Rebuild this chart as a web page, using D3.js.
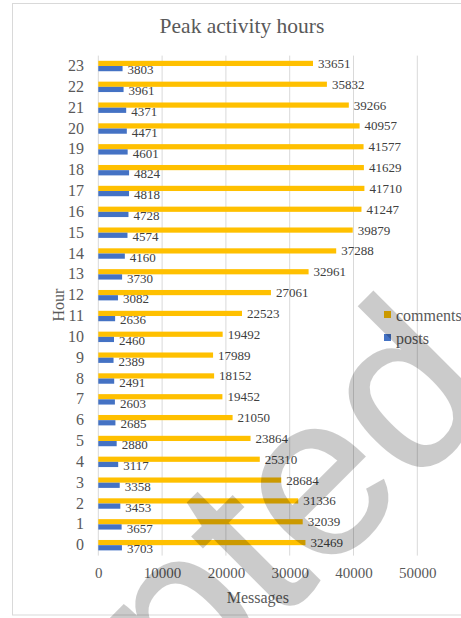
<!DOCTYPE html>
<html>
<head>
<meta charset="utf-8">
<script src="https://cdn.jsdelivr.net/npm/d3@7"></script>
<style>
  body { margin: 0; background: #fff; }
  text { font-family: "Liberation Serif", "Times New Roman", serif; }
  text.watermark { font-family: "Liberation Sans", Arial, sans-serif; }
</style>
</head>
<body>
<svg id="chart" width="461" height="618"></svg>
<script>
// chart data
let hours = [0, 1, 2, 3, 4, 5, 6, 7, 8, 9, 10, 11, 12, 13, 14, 15, 16, 17, 18, 19, 20, 21, 22, 23]
let comments = [32469, 32039, 31336, 28684, 25310, 23864, 21050, 19452, 18152, 17989, 19492, 22523,
  27061, 32961, 37288, 39879, 41247, 41710, 41629, 41577, 40957, 39266, 35832, 33651]
let posts = [3703, 3657, 3453, 3358, 3117, 2880, 2685, 2603, 2491, 2389, 2460, 2636,
  3082, 3730, 4160, 4574, 4728, 4818, 4824, 4601, 4471, 4371, 3961, 3803]
let xTicks = [0, 10000, 20000, 30000, 40000, 50000]
let seriesNames = ["comments", "posts"]
let seriesColors = ["#FFC000", "#4472C4"]

let svg = d3.select("#chart")

// chart border
svg.append("rect")
  .attr("x", 12.5).attr("y", 3.5)
  .attr("width", 470).attr("height", 611.5)
  .attr("fill", "none").attr("stroke", "#D9D9D9")

let x = d3.scaleLinear().domain([0, 50000]).range([98.3, 417.3])
let y = d3.scaleBand().domain(hours.slice().reverse()).range([55.6, 555.6])
let bh = y.bandwidth() / 4

// gridlines
svg.append("g")
  .selectAll("line")
  .data(xTicks).enter()
  .append("line")
  .attr("x1", d => x(d)).attr("x2", d => x(d))
  .attr("y1", y.range()[0]).attr("y2", y.range()[1])
  .attr("stroke", "#D9D9D9").attr("stroke-width", 1)

// x axis labels
let xAxis = svg.append("g")
  .attr("transform", `translate(0, ${y.range()[1]})`)
  .call(d3.axisBottom(x).tickValues(xTicks).tickSize(0).tickPadding(12).tickFormat(d3.format("d")))
xAxis.select(".domain").remove()
xAxis.selectAll("text")
  .attr("font-size", 15).attr("fill", "#595959")

// y axis labels
let yAxis = svg.append("g")
  .attr("transform", "translate(84, 0)")
  .call(d3.axisLeft(y).tickSize(0).tickPadding(0))
yAxis.select(".domain").remove()
yAxis.selectAll("text")
  .attr("font-size", 16).attr("fill", "#595959")

let rows = hours.map((h, i) => ({ hour: h, comments: comments[i], posts: posts[i] }))

// comments bars (upper)
svg.append("g")
  .selectAll("rect")
  .data(rows).enter()
  .append("rect")
  .attr("x", x(0))
  .attr("y", d => y(d.hour) + bh)
  .attr("width", d => x(d.comments) - x(0))
  .attr("height", bh)
  .attr("fill", seriesColors[0])

// posts bars (lower)
svg.append("g")
  .selectAll("rect")
  .data(rows).enter()
  .append("rect")
  .attr("x", x(0))
  .attr("y", d => y(d.hour) + 2 * bh)
  .attr("width", d => x(d.posts) - x(0))
  .attr("height", bh)
  .attr("fill", seriesColors[1])

// value labels
let labels = svg.append("g")
  .attr("font-size", 13).attr("fill", "#404040")
labels.selectAll("text.c")
  .data(rows).enter()
  .append("text")
  .attr("x", d => x(d.comments) + 5)
  .attr("y", d => y(d.hour) + 1.5 * bh)
  .attr("dy", "0.35em")
  .text(d => d.comments)
labels.selectAll("text.p")
  .data(rows).enter()
  .append("text")
  .attr("x", d => x(d.posts) + 5)
  .attr("y", d => y(d.hour) + 2.5 * bh + 1)
  .attr("dy", "0.35em")
  .text(d => d.posts)

// titles
svg.append("text")
  .attr("x", 242).attr("y", 25).attr("dy", "0.35em")
  .attr("text-anchor", "middle")
  .attr("font-size", 21.5).attr("fill", "#595959")
  .text("Peak activity hours")

svg.append("text")
  .attr("x", x(25000)).attr("y", 597).attr("dy", "0.35em")
  .attr("text-anchor", "middle")
  .attr("font-size", 16).attr("fill", "#595959")
  .text("Messages")

svg.append("text")
  .attr("transform", "translate(58, 305) rotate(-90)")
  .attr("dy", "0.35em")
  .attr("text-anchor", "middle")
  .attr("font-size", 16).attr("fill", "#595959")
  .text("Hour")

// legend
let legend = svg.append("g")
  .selectAll("g")
  .data(seriesNames).enter()
  .append("g")
  .attr("transform", (d, i) => `translate(384, ${311 + i * 23})`)
legend.append("rect")
  .attr("width", 7).attr("height", 7)
  .attr("fill", (d, i) => seriesColors[i])
legend.append("text")
  .attr("x", 12).attr("y", 4).attr("dy", "0.35em")
  .attr("font-size", 16).attr("fill", "#595959")
  .text(d => d)

// watermark
svg.append("text")
  .attr("class", "watermark")
  .attr("transform", "translate(-176, 1077) rotate(-45)")
  .attr("font-size", 230)
  .attr("fill", "#000").attr("stroke", "#000").attr("stroke-width", 2)
  .attr("opacity", 0.2)
  .text("Accepted")
</script>
</body>
</html>
